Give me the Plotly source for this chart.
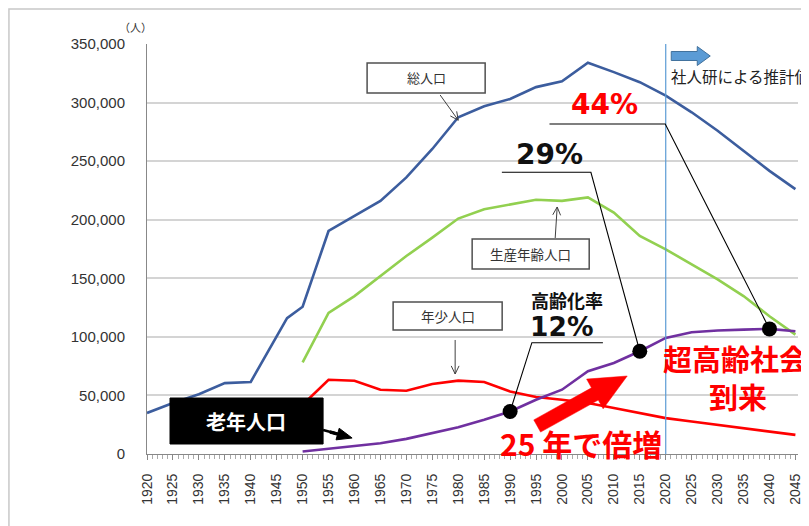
import plotly.graph_objects as go

# ---------------- data ----------------
years_total = [1920, 1925, 1930, 1935, 1940, 1947, 1950, 1955, 1960, 1965, 1970, 1975,
               1980, 1985, 1990, 1995, 2000, 2005, 2010, 2015, 2020, 2025, 2030, 2035,
               2040, 2045]
total_pop = [35000, 43500, 51000, 60500, 61500, 116000, 125700, 190400, 203300, 216100,
             236100, 260400, 287500, 296900, 303100, 313200, 318200, 334000, 326000,
             317400, 306000, 291700, 276000, 258900, 241700, 226100]

years = [1950, 1955, 1960, 1965, 1970, 1975, 1980, 1985, 1990, 1995, 2000, 2005, 2010,
         2015, 2020, 2025, 2030, 2035, 2040, 2045]
working_pop = [78300, 120500, 134800, 151900, 169000, 184700, 201000, 209000, 213200,
               217000, 216100, 219000, 206100, 186100, 174700, 161900, 149100, 134800,
               117600, 101900]
youth_pop = [42000, 63400, 62600, 54900, 54000, 59700, 62600, 61500, 53400, 48600, 46300,
             43500, 39200, 34900, 30600, 27700, 24900, 22000, 19200, 16300]
elderly_pop = [2100, 4400, 6300, 9200, 12900, 17800, 22900, 29200, 36300, 46300, 54900,
               70600, 77700, 87700, 99100, 103900, 105400, 106200, 106800, 104800]

marked_years = [1990, 2015, 2040]
tick_years = list(range(1920, 2046, 5))
projection_start = 2020

# ---------------- geometry helpers (screen pixels) ----------------
W_FIG, H_FIG = 809, 526
OFF = 8  # page body margin
L, T = 147, 44
R, B = 797.7, 454
PW, PH = R - L, B - T
X0, X1 = 1920, 2045.5
Y0, Y1 = 0, 350000


def px(x):  # pixel -> paper x
    return (x - L) / PW


def py(y):  # pixel -> paper y
    return (B - y) / PH


def xpix(year):
    return L + (year - X0) / (X1 - X0) * PW


def ypix(v):
    return B - (v - Y0) / (Y1 - Y0) * PH


def path(points, close=False):
    s = ""
    for i, (x, y) in enumerate(points):
        s += ("M" if i == 0 else "L") + f" {px(x):.5f} {py(y):.5f} "
    if close:
        s += "Z"
    return s


def open_arrow(x0, y0, x1, y1, head=7, spread=0.45):
    import math
    ang = math.atan2(y1 - y0, x1 - x0)
    h1 = (x1 - head * math.cos(ang - spread), y1 - head * math.sin(ang - spread))
    h2 = (x1 - head * math.cos(ang + spread), y1 - head * math.sin(ang + spread))
    return path([(x0, y0), (x1, y1)]) + path([h1, (x1, y1), h2])


def solid_arrow(x0, y0, x1, y1, shaft=7, head_len=36, head_w=17):
    import math
    dx, dy = x1 - x0, y1 - y0
    ln = math.hypot(dx, dy)
    ux, uy = dx / ln, dy / ln
    nx, ny = -uy, ux
    bx, by = x1 - ux * head_len, y1 - uy * head_len
    pts = [(x0 + nx * shaft, y0 + ny * shaft), (bx + nx * shaft, by + ny * shaft),
           (bx + nx * head_w, by + ny * head_w), (x1, y1),
           (bx - nx * head_w, by - ny * head_w), (bx - nx * shaft, by - ny * shaft),
           (x0 - nx * shaft, y0 - ny * shaft)]
    return path(pts, close=True)


fig = go.Figure()

fig.add_trace(go.Scatter(x=years_total, y=total_pop, mode="lines", name="総人口",
                         line=dict(color="#3c5d9e", width=2.6)))
fig.add_trace(go.Scatter(x=years, y=working_pop, mode="lines", name="生産年齢人口",
                         line=dict(color="#92d050", width=2.6)))
fig.add_trace(go.Scatter(x=years, y=youth_pop, mode="lines", name="年少人口",
                         line=dict(color="#ff0000", width=2.6)))
fig.add_trace(go.Scatter(x=years, y=elderly_pop, mode="lines", name="老年人口",
                         line=dict(color="#7030a0", width=2.6)))

marked_vals = [elderly_pop[years.index(y)] for y in marked_years]
fig.add_trace(go.Scatter(x=marked_years, y=marked_vals, mode="markers",
                         marker=dict(color="black", size=15), cliponaxis=False))

shapes = []
# outer chart frame (left and top edges visible in the picture)
shapes.append(dict(type="path", xref="paper", yref="paper",
                   path=path([(9, 560), (9, 9), (840, 9)]),
                   line=dict(color="#c8c8c8", width=1.5), layer="above"))
# projection line
shapes.append(dict(type="line", xref="x", yref="paper", x0=projection_start,
                   x1=projection_start, y0=0, y1=1, line=dict(color="#5b9bd5", width=1.2)))


def box(x0, y0, x1, y1, fill="white", line="#505050", lw=1.5):
    shapes.append(dict(type="rect", xref="paper", yref="paper", x0=px(x0), x1=px(x1),
                       y0=py(y1), y1=py(y0), fillcolor=fill,
                       line=dict(color=line, width=lw), layer="above"))

box(367, 63, 485, 93)
box(472, 239, 589, 269)
box(393, 302, 502, 330)
box(170, 398, 323, 444, fill="black", line="black", lw=1)

# thin arrows
for (a, b, c, d) in [(440, 95, xpix(1980), ypix(total_pop[years_total.index(1980)]) + 3),
                     (555, 238, 557, 207),
                     (455, 340, 455, 374)]:
    shapes.append(dict(type="path", xref="paper", yref="paper",
                       path=open_arrow(a, b, c, d, head=9),
                       line=dict(color="#404040", width=1), layer="above"))

# black arrow from 老年人口
shapes.append(dict(type="path", xref="paper", yref="paper",
                   path=path([(323, 430), (338, 434)]),
                   line=dict(color="black", width=2.5), layer="above"))
shapes.append(dict(type="path", xref="paper", yref="paper",
                   path=solid_arrow(330, 432, 352, 438, shaft=1.2, head_len=15, head_w=6),
                   fillcolor="black", line=dict(color="black", width=1), layer="above"))

# big red arrow
shapes.append(dict(type="path", xref="paper", yref="paper",
                   path=solid_arrow(537, 426, 627, 376, shaft=7, head_len=37, head_w=17),
                   fillcolor="#ff0000", line=dict(color="#ff0000", width=0.5), layer="above"))

# blue projection arrow
shapes.append(dict(type="path", xref="paper", yref="paper",
                   path=solid_arrow(671, 56, 710, 56, shaft=4.5, head_len=13, head_w=9.5),
                   fillcolor="#5b9bd5", line=dict(color="#41719c", width=1), layer="above"))

# leader lines
for (xa, xb, yl, yr) in [(602.7, 531.7, 342.7, 1990), (501.7, 590.7, 172.3, 2015),
                         (549.3, 665, 124, 2040)]:
    val = elderly_pop[years.index(yr)]
    shapes.append(dict(type="path", xref="paper", yref="paper",
                       path=path([(xa, yl), (xb, yl), (xpix(yr), ypix(val))]),
                       line=dict(color="black", width=1.1), layer="above"))

annotations = []


def text(x, y, s, size, color="#222222", bold=False, family="Noto Sans CJK JP",
         xanchor="center"):
    annotations.append(dict(xref="paper", yref="paper", x=px(x), y=py(y),
                            text=f"<b>{s}</b>" if bold else s, showarrow=False,
                            xanchor=xanchor, yanchor="middle",
                            font=dict(size=size, color=color, family=family)))

PCT_FONT = "DejaVu Sans"
text(136, 27, "（人）", 11, color="#333333")
text(426, 78, "総人口", 13, color="#333333")
text(530.5, 254, "生産年齢人口", 13.5, color="#333333")
text(447.5, 316, "年少人口", 13.5, color="#333333")
text(245.5, 421, "老年人口", 20, color="white", bold=True)
text(567, 300, "高齢化率", 18, color="#111111", bold=True)
text(561, 326, "12%", 26.5, color="#111111", bold=True, family=PCT_FONT)
text(549, 154, "29%", 28, color="#111111", bold=True, family=PCT_FONT)
text(604, 104, "44%", 28, color="#ff0000", bold=True, family=PCT_FONT)
text(735.5, 358, "超高齢社会", 29, color="#ff0000", bold=True)
text(738, 396, "到来", 29, color="#ff0000", bold=True)
text(581, 443, "25 年で倍増", 30, color="#ff0000", bold=True)
text(669, 76, "社人研による推計値", 15.5, color="#222222", xanchor="left")

fig.update_layout(
    width=W_FIG, height=H_FIG,
    margin=dict(l=L - OFF, r=W_FIG - (R - OFF), t=T - OFF, b=H_FIG - (B - OFF), pad=0),
    paper_bgcolor="white", plot_bgcolor="white",
    showlegend=False,
    shapes=shapes, annotations=annotations,
    font=dict(family="Liberation Sans, Arial", color="#333333"),
)
fig.update_xaxes(range=[X0, X1], tickvals=tick_years, tickformat="d", tickangle=-90,
                 ticks="outside", ticklen=5, tickcolor="#888888",
                 minor=dict(dtick=1, ticks="outside", ticklen=4, tickcolor="#aaaaaa"),
                 showgrid=False, showline=True, linecolor="#888888", linewidth=1,
                 tickfont=dict(size=14, color="#333333"), ticklabelstandoff=8,
                 zeroline=False)
fig.update_yaxes(range=[Y0, Y1], dtick=50000, tickformat=",", showgrid=True,
                 gridcolor="#d4d4d4", gridwidth=1.5, showline=True, linecolor="#888888",
                 linewidth=1, ticks="", tickfont=dict(size=15, color="#333333"),
                 ticklabelstandoff=18, zeroline=False)

fig.write_html("out.html")
